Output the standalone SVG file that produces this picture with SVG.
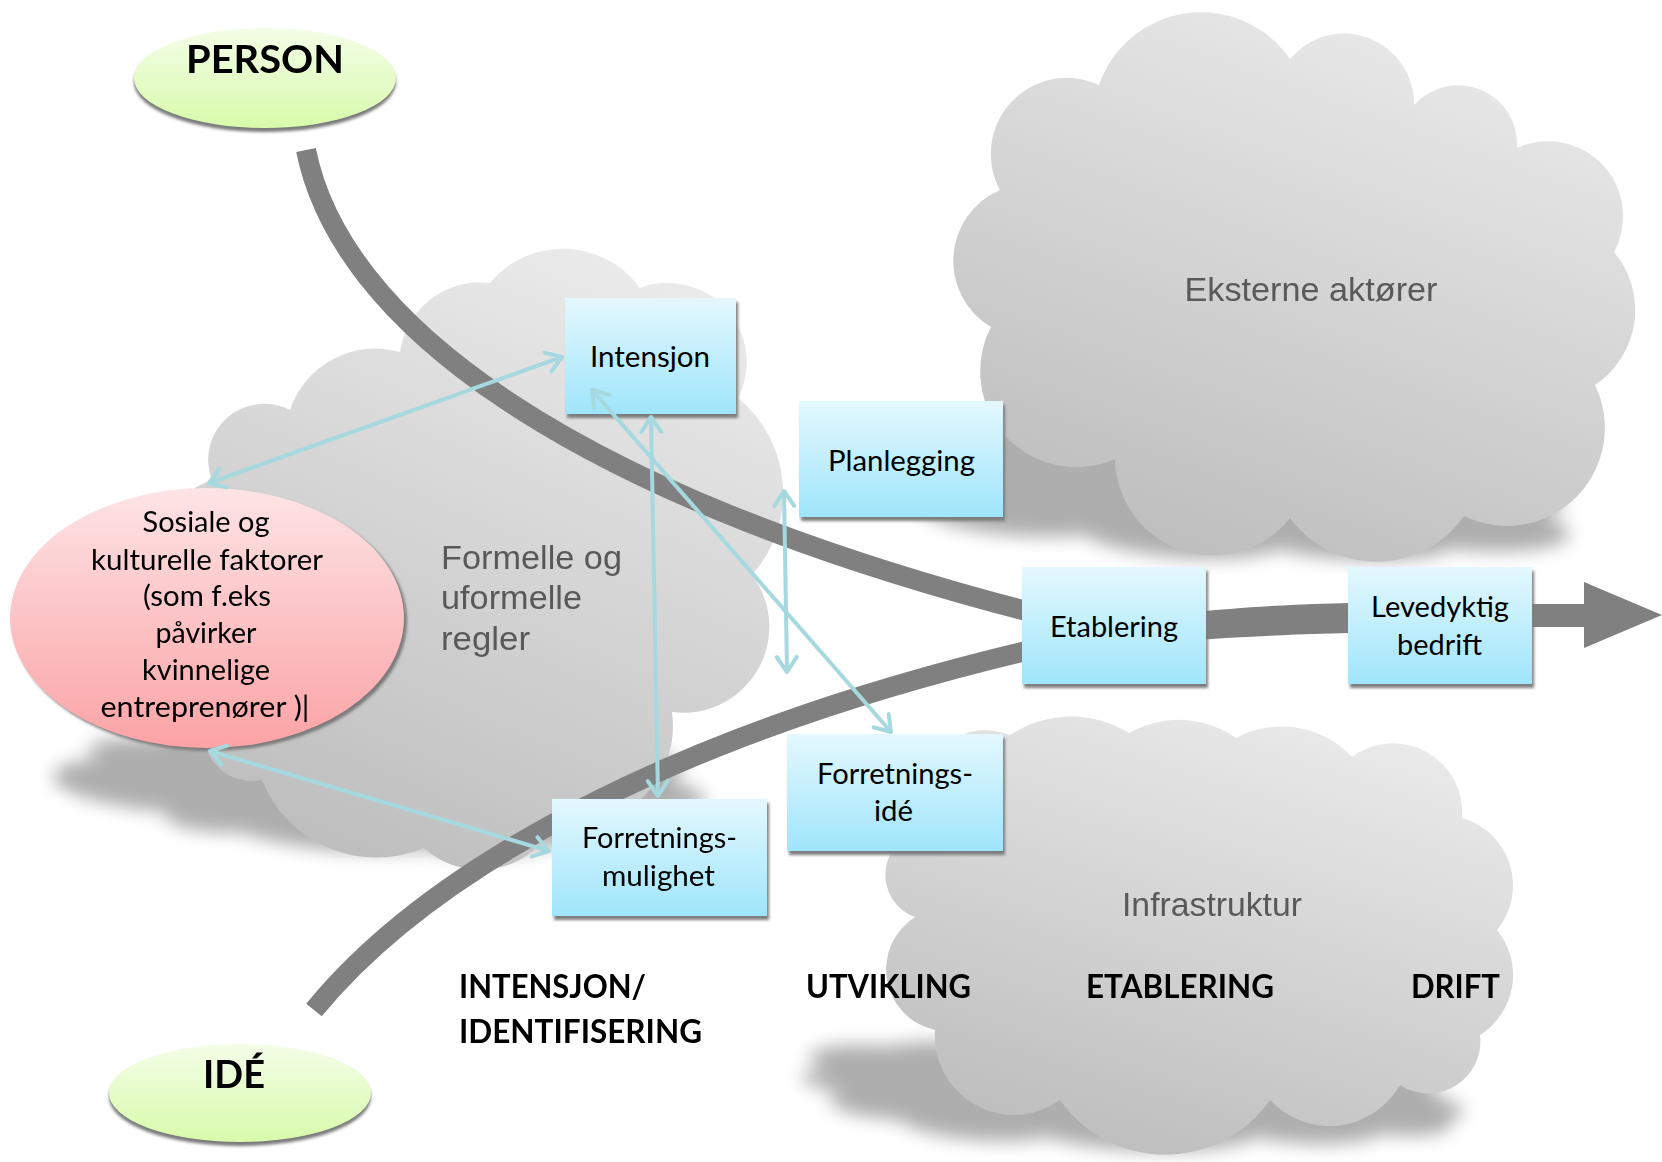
<svg xmlns="http://www.w3.org/2000/svg" width="1662" height="1162" viewBox="0 0 1662 1162">
<style>
.t{font-family:Lato,"Liberation Sans",sans-serif;font-size:28px;fill:#000;text-anchor:middle}
.tb{font-family:Lato,"Liberation Sans",sans-serif;font-weight:700;font-size:32px;fill:#000}
.big{font-family:Lato,"Liberation Sans",sans-serif;font-weight:700;font-size:39px;fill:#000;text-anchor:middle}
.ct{font-family:"Liberation Sans",Arial,sans-serif;font-size:34px;fill:#595959}
.box{fill:url(#gBox)}
.bsh{fill:#7d7d7d;filter:url(#fSh)}
.cloud{fill:url(#gCloud)}
.flow{fill:none;stroke:#808080;stroke-width:20}
.link{fill:none;stroke:#a5d9df;stroke-width:4;marker-start:url(#ah);marker-end:url(#ah)}
</style>
<defs>
<linearGradient id="gBox" x1="0" y1="0" x2="0" y2="1"><stop offset="0" stop-color="#e4f8fd"/><stop offset="1" stop-color="#9fe5fb"/></linearGradient>
<linearGradient id="gPink" x1="0" y1="0" x2="0" y2="1"><stop offset="0" stop-color="#fde4e6"/><stop offset="1" stop-color="#fba3a5"/></linearGradient>
<linearGradient id="gGreen" x1="0" y1="0" x2="0" y2="1"><stop offset="0" stop-color="#f4fde8"/><stop offset="1" stop-color="#d8fbab"/></linearGradient>
<linearGradient id="gCloud" x1="0.75" y1="0" x2="0.3" y2="1"><stop offset="0" stop-color="#ebebeb"/><stop offset="1" stop-color="#bdbdbd"/></linearGradient>
<filter id="fCloudSh" filterUnits="userSpaceOnUse" x="0" y="0" width="1662" height="1162"><feGaussianBlur stdDeviation="9"/></filter>
<filter id="fSh" filterUnits="userSpaceOnUse" x="0" y="0" width="1662" height="1162"><feGaussianBlur stdDeviation="1.5"/></filter>
<marker id="ah" viewBox="-18 -12 21 24" refX="0" refY="0" markerWidth="21" markerHeight="24" markerUnits="userSpaceOnUse" orient="auto-start-reverse" overflow="visible"><path d="M-15,-10 L0,0 L-15,10" fill="none" stroke="#a5d9df" stroke-width="4" stroke-linecap="round" stroke-linejoin="round"/></marker>
<path id="cloud1" d="M1000,190 A76,76 0 0 1 1099,85 A108,108 0 0 1 1290,59 A70,70 0 0 1 1414,105 A59,59 0 0 1 1517,148 A75,75 0 0 1 1614,252 A90,90 0 0 1 1595,385 A98,98 0 0 1 1464,516 A107,107 0 0 1 1290,518 A98,98 0 0 1 1115,459 A96,96 0 0 1 991,327 A77,77 0 0 1 1000,190 Z"/>
<path id="cloud2" d="M212,480 A56,56 0 0 1 290,410 A90,90 0 0 1 400,352 A81,81 0 0 1 490,283 A95,95 0 0 1 640,288 A79,79 0 0 1 738,398 A123,123 0 0 1 752,575 A86,86 0 0 1 672,712 A100,100 0 0 1 640,800 A50,50 0 0 1 551,830 A83,83 0 0 1 424,848 A123,123 0 0 1 262,780 A49,49 0 0 1 215,700 A117,117 0 0 1 212,480 Z"/>
<path id="cloud3" d="M925,830 A68,68 0 0 1 1010,735 A110,110 0 0 1 1129,733 A100,100 0 0 1 1236,738 A96,96 0 0 1 1352,757 A69,69 0 0 1 1462,818 A70,70 0 0 1 1497,930 A71,71 0 0 1 1480,1035 A52,52 0 0 1 1400,1085 A81,81 0 0 1 1270,1100 A128,128 0 0 1 1060,1100 A79,79 0 0 1 935,1030 A62,62 0 0 1 915,917 A45,45 0 0 1 925,830 Z"/>
</defs>
<rect width="1662" height="1162" fill="#ffffff"/>

<g id="cloud-shadows" filter="url(#fCloudSh)" opacity="0.32">
<use href="#cloud1" fill="#000" transform="matrix(1,0,0.3,0.25,-168,420)"/>
<use href="#cloud2" fill="#000" transform="matrix(1,0,0.3,0.25,-255,637.5)"/>
<use href="#cloud3" fill="#000" transform="matrix(1,0,0.3,0.25,-345,862.5)"/>
</g>

<g id="cloud-eksterne">
<use href="#cloud1" class="cloud"/>
<text class="ct" x="1311" y="301" text-anchor="middle" textLength="253" lengthAdjust="spacingAndGlyphs">Eksterne aktører</text>
</g>
<g id="cloud-regler">
<use href="#cloud2" class="cloud"/>
<text class="ct" x="441" y="569" textLength="181" lengthAdjust="spacingAndGlyphs">Formelle og</text>
<text class="ct" x="441" y="609" textLength="141" lengthAdjust="spacingAndGlyphs">uformelle</text>
<text class="ct" x="441" y="650" textLength="89" lengthAdjust="spacingAndGlyphs">regler</text>
</g>
<g id="cloud-infrastruktur">
<use href="#cloud3" class="cloud"/>
<text class="ct" x="1122" y="916" textLength="180" lengthAdjust="spacingAndGlyphs">Infrastruktur</text>
</g>

<g id="flows">
<path class="flow" d="M306,150 C340,320 560,490 1030,612"/>
<path class="flow" d="M314,1010 C420,880 650,740 1030,650"/>
<path d="M1195,612 C1260,606 1300,604 1350,603 L1350,633 C1300,634 1260,636 1195,640 Z" fill="#808080"/>
<path d="M1528,604 L1584,604 L1584,582 L1662,615 L1584,648 L1584,627 L1528,627 Z" fill="#808080"/>
</g>

<g id="node-person">
<ellipse cx="265" cy="82" rx="131" ry="50" fill="#7a7a7a" filter="url(#fSh)"/>
<ellipse cx="265" cy="78" rx="131" ry="50" fill="url(#gGreen)"/>
<text class="big" x="265" y="73" textLength="158" lengthAdjust="spacingAndGlyphs">PERSON</text>
</g>
<g id="node-ide">
<ellipse cx="240" cy="1097" rx="131" ry="49" fill="#7a7a7a" filter="url(#fSh)"/>
<ellipse cx="240" cy="1093" rx="131" ry="49" fill="url(#gGreen)"/>
<text class="big" x="234" y="1088" textLength="62" lengthAdjust="spacingAndGlyphs">IDÉ</text>
</g>
<g id="node-sosiale">
<ellipse cx="210" cy="621" rx="197" ry="130" fill="#7a7a7a" filter="url(#fSh)"/>
<ellipse cx="207" cy="618" rx="197" ry="130" fill="url(#gPink)"/>
<text class="t" x="206" y="532" textLength="127" lengthAdjust="spacingAndGlyphs">Sosiale og</text>
<text class="t" x="207" y="570" textLength="232" lengthAdjust="spacingAndGlyphs">kulturelle faktorer</text>
<text class="t" x="207" y="606" textLength="128" lengthAdjust="spacingAndGlyphs">(som f.eks</text>
<text class="t" x="206" y="643" textLength="101" lengthAdjust="spacingAndGlyphs">påvirker</text>
<text class="t" x="206" y="680" textLength="128" lengthAdjust="spacingAndGlyphs">kvinnelige</text>
<text class="t" x="205" y="717" textLength="209" lengthAdjust="spacingAndGlyphs">entreprenører )|</text>
</g>
<g id="node-intensjon">
<rect class="bsh" x="567" y="302" width="171" height="116"/>
<rect class="box" x="565" y="298" width="171" height="116"/>
<text class="t" x="650" y="367" textLength="120" lengthAdjust="spacingAndGlyphs">Intensjon</text>
</g>
<g id="node-planlegging">
<rect class="bsh" x="801" y="405" width="204" height="116"/>
<rect class="box" x="799" y="401" width="204" height="116"/>
<text class="t" x="901.5" y="471" textLength="147" lengthAdjust="spacingAndGlyphs">Planlegging</text>
</g>
<g id="node-etablering">
<rect class="bsh" x="1024" y="571" width="184" height="117"/>
<rect class="box" x="1022" y="567" width="184" height="117"/>
<text class="t" x="1114" y="637" textLength="128" lengthAdjust="spacingAndGlyphs">Etablering</text>
</g>
<g id="node-levedyktig">
<rect class="bsh" x="1350" y="571" width="184" height="117"/>
<rect class="box" x="1348" y="567" width="184" height="117"/>
<text class="t" x="1440" y="617" textLength="138" lengthAdjust="spacingAndGlyphs">Levedyktig</text>
<text class="t" x="1439.5" y="655" textLength="85" lengthAdjust="spacingAndGlyphs">bedrift</text>
</g>
<g id="node-forretningside">
<rect class="bsh" x="789" y="738" width="216" height="117"/>
<rect class="box" x="787" y="734" width="216" height="117"/>
<text class="t" x="895" y="784" textLength="156" lengthAdjust="spacingAndGlyphs">Forretnings-</text>
<text class="t" x="893.5" y="821" textLength="39" lengthAdjust="spacingAndGlyphs">idé</text>
</g>
<g id="node-forretningsmulighet">
<rect class="bsh" x="554" y="803" width="215" height="117"/>
<rect class="box" x="552" y="799" width="215" height="117"/>
<text class="t" x="659.5" y="848" textLength="155" lengthAdjust="spacingAndGlyphs">Forretnings-</text>
<text class="t" x="658.5" y="886" textLength="113" lengthAdjust="spacingAndGlyphs">mulighet</text>
</g>

<g id="connectors">
<line class="link" x1="209" y1="483" x2="562" y2="357"/>
<line class="link" x1="210" y1="751" x2="549" y2="851"/>
<line class="link" x1="651" y1="417" x2="658" y2="796"/>
<line class="link" x1="592" y1="390" x2="891" y2="732"/>
<line class="link" x1="784" y1="491" x2="787" y2="672"/>
</g>

<g id="stage-labels">
<text class="tb" x="459" y="998" textLength="187" lengthAdjust="spacingAndGlyphs">INTENSJON/</text>
<text class="tb" x="459" y="1043" textLength="243" lengthAdjust="spacingAndGlyphs">IDENTIFISERING</text>
<text class="tb" x="806" y="998" textLength="165" lengthAdjust="spacingAndGlyphs">UTVIKLING</text>
<text class="tb" x="1086" y="998" textLength="188" lengthAdjust="spacingAndGlyphs">ETABLERING</text>
<text class="tb" x="1411" y="998" textLength="89" lengthAdjust="spacingAndGlyphs">DRIFT</text>
</g>
</svg>
